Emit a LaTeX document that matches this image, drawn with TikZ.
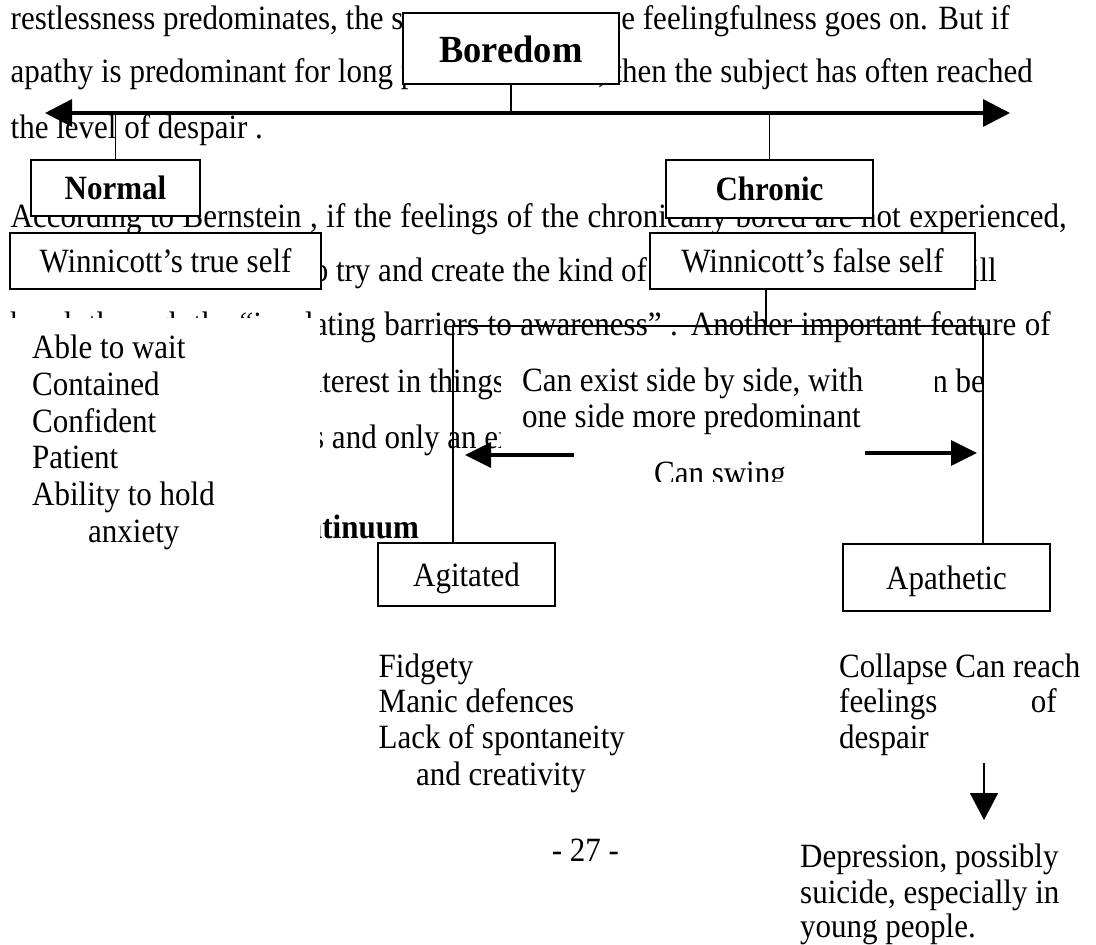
\documentclass[tikz,border=0pt]{standalone}
\usepackage{fontspec}
\setmainfont{Liberation Serif}[FakeStretch=0.912]
\newfontfamily\boredfont{Liberation Serif}[FakeStretch=0.95]
\usetikzlibrary{arrows.meta}
\tikzset{
  bodytext/.style={inner sep=0pt, font=\fontsize{34}{40}\selectfont, anchor=base west},
  boldtext/.style={bodytext, font=\fontsize{34}{40}\selectfont\bfseries},
  boxnode/.style={draw, line width=1.8pt, fill=white, inner sep=0pt, text height=23pt, text depth=0pt, font=\fontsize{34}{40}\selectfont},
  boldbox/.style={boxnode, font=\fontsize{34}{40}\selectfont\bfseries},
  conn/.style={line width=1.6pt},
  mainarrow/.style={line width=3.3pt, {Triangle[length=27pt,width=27pt]}-{Triangle[length=27pt,width=27pt]}},
  swingarrow/.style={line width=3.3pt, -{Triangle[length=26pt,width=25pt]}},
  downarrow/.style={line width=1.8pt, -{Triangle[length=27pt,width=28pt]}},
  cover/.style={fill=white}
}
\begin{document}
\begin{tikzpicture}[x=1pt,y=-1pt]
\fill[white] (0,0) rectangle (1096,945);
\useasboundingbox (0,0) rectangle (1096,945);

% ---- page text behind the diagram ----
\node[bodytext] (bg1a) at (10.5,29) {restlessness predominates, the s};
\node[bodytext, anchor=base east] (bg1b) at (1010,29) {e feelingfulness goes on. But if};
\node[bodytext] (bg2a) at (10.5,82) {apathy is predominant for long p};
\node[bodytext, anchor=base east] (bg2b) at (1033,82) {, then the subject has often reached};
\node[bodytext] (bg3) at (10.5,138) {the level of despair .};
\node[bodytext] (bg4) at (10.5,227) {\makebox[1056pt][s]{According to Bernstein , if the feelings of the chronically bored are not experienced,}};
\node[bodytext] (bg5a) at (304,281) {to try and create the kind of};
\node[bodytext, anchor=base east] (bg5b) at (997,281) {will};
\node[bodytext] (bg6) at (10.5,335) {\makebox[1040pt][s]{break through the “insulating barriers to awareness” . Another important feature of}};
\node[bodytext] (bg7a) at (298,392) {interest in things};
\node[bodytext, anchor=base east] (bg7b) at (985,392) {can be};
\node[bodytext] (bg8) at (312,448) {s and only an ex};
\node[boldtext] (bg9) at (267,538) {Continuum};

% ---- list of the true self (white text box) ----
\fill[cover] (0,318) rectangle (320,552);
\node[bodytext] (q1) at (32,358) {Able to wait};
\node[bodytext] (q2) at (32,395) {Contained};
\node[bodytext] (q3) at (32,432) {Confident};
\node[bodytext] (q4) at (32,468) {Patient};
\node[bodytext] (q5) at (32,505) {Ability to hold};
\node[bodytext] (q6) at (88,542) {anxiety};

% ---- note between the two sides (white text box, clipped) ----
\fill[cover] (501,345) rectangle (935,481);
\begin{scope}
\clip (501,345) rectangle (935,481);
\node[bodytext] (ex1) at (522,391) {Can exist side by side, with};
\node[bodytext] (ex2) at (522,427) {one side more predominant};
\node[bodytext, anchor=base] (swing) at (720,484) {Can swing};
\end{scope}

% ---- boxes ----
\node[boldbox, font=\boredfont\fontsize{38.4}{42}\selectfont\bfseries, text height=27pt, minimum width=215.5pt, minimum height=71pt] (bored) at (511,48.5) {Boredom};
\node[boldbox, minimum width=169pt, minimum height=56pt] (normal) at (115.5,188) {Normal};
\node[boldbox, minimum width=207pt, minimum height=58pt] (chronic) at (769.5,189) {Chronic};
\node[boxnode, minimum width=311pt, minimum height=56pt] (trueself) at (165.5,261) {Winnicott’s true self};
\node[boxnode, minimum width=325pt, minimum height=56pt] (falseself) at (812.5,261) {Winnicott’s false self};
\node[boxnode, minimum width=177pt, minimum height=63pt] (agitated) at (466.5,574.5) {Agitated};
\node[boxnode, minimum width=207pt, minimum height=67pt] (apathetic) at (946.5,577.5) {Apathetic};

% ---- lists under the boxes ----
\node[bodytext] (f1) at (378.5,677) {Fidgety};
\node[bodytext] (f2) at (378.5,712) {Manic defences};
\node[bodytext] (f3) at (378.5,748) {Lack of spontaneity};
\node[bodytext] (f4) at (416,785) {and creativity};
\node[bodytext] (c1) at (839,677) {Collapse Can reach};
\node[bodytext] (c2) at (839,712) {feelings};
\node[bodytext, anchor=base east] (c2b) at (1057,712) {of};
\node[bodytext] (c3) at (839,748) {despair};
\node[bodytext] (d1) at (800,867) {Depression, possibly};
\node[bodytext] (d2) at (800,903) {suicide, especially in};
\node[bodytext] (d3) at (800,937) {young people.};
\node[bodytext, anchor=base] (pageno) at (585.5,861) {- 27 -};

% ---- connectors ----
\coordinate (arrowL) at (45,113);
\coordinate (arrowR) at (1010,113);
\draw[mainarrow] (arrowL) -- (arrowR);
\draw[conn] (bored.south) -- (bored.south |- arrowL);
\draw[conn] (normal.north |- arrowL) -- (normal.north);
\draw[conn] (chronic.north |- arrowL) -- (chronic.north);
\coordinate (fsj) at (766,326);
\coordinate (brL) at (453,326);
\coordinate (brR) at (983,326);
\draw[conn] (fsj |- falseself.south) -- (fsj);
\draw[conn] (brL |- agitated.north) -- (brL) -- (brR) -- (brR |- apathetic.north);
\coordinate (swL1) at (574,455);
\coordinate (swL2) at (465,455);
\coordinate (swR1) at (865,453);
\coordinate (swR2) at (977,453);
\draw[swingarrow] (swL1) -- (swL2);
\draw[swingarrow] (swR1) -- (swR2);
\coordinate (dn1) at (984,763);
\coordinate (dn2) at (984,820);
\draw[downarrow] (dn1) -- (dn2);
\end{tikzpicture}
\end{document}
